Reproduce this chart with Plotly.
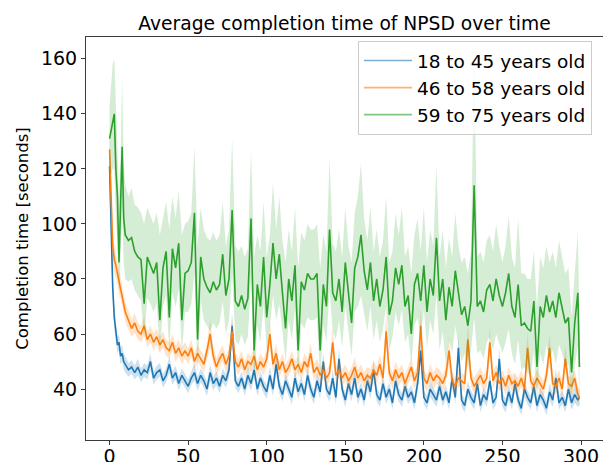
import numpy as np
import plotly.graph_objects as go

# x positions (trial index)
trial = list(range(10)) + list(range(10, 300, 2)) + [299]

series_names = ["18 to 45 years old", "46 to 58 years old", "59 to 75 years old"]
colors = ["#1f77b4", "#ff7f0e", "#2ca02c"]
legend_colors = ["rgba(31,119,180,0.6)", "rgba(255,127,14,0.6)", "rgba(44,160,44,0.6)"]
fills = ["rgba(31,119,180,0.22)", "rgba(255,127,14,0.22)", "rgba(44,160,44,0.2)"]

blue_mean = [
    121, 94, 77, 66, 60, 56, 57, 52, 53, 50,
    49, 47, 48, 46, 48, 45, 47, 46, 50, 44, 46, 47, 43, 45, 49, 44, 46, 42, 45, 43,
    41, 44, 46, 42, 45, 43, 40, 46, 42, 44, 41, 45, 43, 47, 63, 43, 41, 44, 40, 45,
    42, 47, 40, 44, 41, 39, 45, 40, 49, 41, 38, 43, 40, 37, 44, 39, 42, 38, 45, 40,
    37, 43, 39, 50, 40, 38, 44, 37, 51, 40, 36, 42, 38, 44, 37, 40, 36, 43, 39, 47,
    38, 36, 42, 37, 40, 35, 43, 38, 36, 41, 37, 39, 35, 42, 54, 37, 35, 40, 38, 36,
    41, 36, 39, 35, 44, 37, 55, 36, 34, 40, 37, 35, 42, 34, 38, 36, 43, 35, 37, 51,
    36, 34, 39, 35, 42, 36, 33, 40, 37, 35, 41, 34, 38, 36, 33, 39, 36, 44, 35, 37, 34, 40, 35, 38, 36, 37,
]
blue_ci = [
    6, 5, 4, 4, 3.5, 3, 3, 3, 3, 3,
    3, 2.5, 2.5, 2.5, 3, 2.5, 2.5, 2.5, 3, 2.5, 2.5, 2.5, 2.5, 2.5, 3, 2.5, 2.5, 2.5, 2.5, 2.5,
    2.5, 2.5, 3, 2.5, 2.5, 2.5, 2.5, 3, 2.5, 2.5, 2.5, 2.5, 2.5, 3, 5, 2.5, 2.5, 2.5, 2.5, 3,
    2.5, 3, 2.5, 2.5, 2.5, 2.5, 3, 2.5, 3.5, 2.5, 2.5, 2.5, 2.5, 2.5, 3, 2.5, 2.5, 2.5, 3, 2.5,
    2.5, 3, 2.5, 3.5, 2.5, 2.5, 3, 2.5, 4, 2.5, 2.5, 3, 2.5, 3, 2.5, 2.5, 2.5, 3, 2.5, 3.5,
    2.5, 2.5, 3, 2.5, 2.5, 2.5, 3, 2.5, 2.5, 3, 2.5, 2.5, 2.5, 3, 4.5, 2.5, 2.5, 3, 2.5, 2.5,
    3, 2.5, 2.5, 2.5, 3, 2.5, 4.5, 2.5, 2.5, 3, 2.5, 2.5, 3, 2.5, 2.5, 2.5, 3, 2.5, 2.5, 4,
    2.5, 2.5, 3, 2.5, 3, 2.5, 2.5, 3, 2.5, 2.5, 3, 2.5, 2.5, 2.5, 2.5, 3, 2.5, 3.5, 2.5, 2.5, 2.5, 3, 2.5, 3, 2.5, 3,
]

orange_mean = [
    127, 105, 92, 87, 85, 82, 79, 77, 74, 71,
    68, 65, 62, 64, 61, 60, 63, 58, 60, 57, 59, 56, 58, 55, 54, 57, 53, 55, 52, 54,
    52, 55, 50, 53, 51, 49, 54, 60, 52, 48, 51, 53, 49, 52, 61, 50, 48, 51, 47, 50,
    49, 52, 47, 50, 48, 51, 60, 49, 53, 47, 50, 46, 48, 51, 47, 49, 46, 50, 48, 53,
    46, 48, 45, 47, 44, 46, 57, 45, 47, 44, 46, 43, 45, 48, 44, 46, 43, 45, 44, 47,
    45, 49, 44, 61, 46, 43, 47, 44, 46, 42, 45, 48, 43, 46, 63, 44, 42, 46, 43, 45,
    44, 42, 45, 54, 43, 41, 44, 43, 42, 58, 44, 41, 43, 45, 42, 44, 57, 43, 46, 42,
    44, 41, 45, 42, 43, 41, 44, 40, 55, 43, 41, 44, 42, 40, 45, 55, 42, 41, 44, 40, 51, 42, 41, 44, 38, 37,
]
orange_ci = [
    8, 7, 6, 5, 4.5, 4, 4, 4, 3.5, 3.5,
    3.5, 3.5, 3, 3.5, 3, 3, 3.5, 3, 3, 3, 3, 3, 3, 3, 3, 3, 3, 3, 3, 3,
    3, 3, 3, 3, 3, 3, 3, 5, 3, 3, 3, 3, 3, 3, 5, 3, 3, 3, 3, 3,
    3, 3, 3, 3, 3, 3, 5, 3, 3.5, 3, 3, 3, 3, 3, 3, 3, 3, 3, 3, 4,
    3, 3, 3, 3, 3, 3, 5, 3, 3, 3, 3, 3, 3, 3.5, 3, 3, 3, 3, 3, 3.5,
    3, 3.5, 3, 6, 3, 3, 3, 3, 3, 3, 3, 3.5, 3, 3, 6, 3, 3, 3, 3, 3,
    3, 3, 3, 5, 3, 3, 3, 3, 3, 6, 3, 3, 3, 3, 3, 3, 5.5, 3, 3, 3,
    3, 3, 3, 3, 3, 3, 3, 3, 5.5, 3, 3, 3, 3, 3, 3, 5.5, 3, 3, 3, 3, 5, 3, 3, 3, 3, 3,
]

green_mean = [
    131, 134, 138, 140, 120, 110, 86, 104, 128, 102,
    96, 94, 95, 90, 88, 87, 71, 88, 85, 82, 86, 65, 84, 90, 66, 91, 84, 93, 65, 82,
    83, 86, 104, 58, 88, 80, 77, 75, 79, 76, 78, 89, 74, 80, 105, 72, 70, 74, 69, 73,
    102, 54, 78, 70, 88, 66, 78, 93, 80, 89, 75, 62, 80, 72, 85, 54, 79, 76, 82, 80,
    80, 82, 54, 78, 70, 98, 75, 72, 80, 68, 86, 74, 64, 84, 88, 96, 83, 76, 86, 72,
    80, 70, 76, 88, 67, 72, 84, 78, 85, 70, 74, 60, 78, 82, 72, 85, 68, 80, 74, 95,
    72, 80, 65, 77, 70, 83, 74, 67, 70, 63, 72, 114, 70, 72, 68, 76, 78, 72, 80, 74,
    70, 75, 82, 70, 66, 78, 63, 64, 62, 61, 72, 48, 70, 66, 74, 68, 72, 66, 75, 70, 64, 66, 46, 64, 75, 48,
]
green_hi = [
    143, 150, 158, 160, 140, 128, 110, 124, 153, 122,
    114, 110, 113, 107, 106, 104, 100, 106, 103, 100, 104, 96, 102, 108, 98, 110, 102, 112, 96, 100,
    101, 104, 128, 92, 106, 98, 95, 94, 97, 94, 96, 108, 92, 98, 131, 92, 90, 92, 88, 91,
    127, 88, 96, 90, 108, 88, 96, 115, 98, 110, 94, 86, 98, 90, 106, 84, 97, 94, 100, 98,
    98, 100, 84, 96, 90, 124, 93, 90, 98, 88, 106, 92, 86, 104, 110, 122, 102, 94, 106, 90,
    98, 88, 94, 110, 86, 90, 104, 96, 106, 88, 92, 82, 96, 102, 90, 106, 86, 98, 92, 121,
    88, 98, 84, 95, 88, 104, 92, 86, 88, 82, 90, 164, 88, 90, 86, 94, 96, 90, 100, 92,
    86, 92, 103, 88, 84, 102, 82, 82, 80, 80, 90, 70, 88, 84, 92, 86, 90, 84, 94, 88, 82, 84, 66, 82, 97, 66,
]
green_lo = [
    119, 118, 120, 120, 102, 94, 72, 88, 104, 86,
    80, 79, 80, 76, 74, 72, 58, 73, 71, 68, 71, 53, 70, 74, 54, 75, 70, 76, 53, 68,
    68, 71, 82, 46, 72, 65, 63, 61, 64, 62, 64, 72, 60, 65, 82, 58, 56, 60, 56, 59,
    80, 43, 63, 57, 71, 54, 63, 74, 65, 71, 61, 50, 65, 58, 69, 43, 64, 62, 66, 65,
    65, 66, 43, 63, 57, 76, 61, 58, 65, 55, 70, 60, 52, 68, 70, 74, 67, 61, 70, 58,
    65, 57, 62, 70, 54, 59, 68, 63, 69, 57, 60, 49, 63, 66, 59, 69, 55, 65, 60, 74,
    54, 61, 49, 58, 53, 63, 56, 50, 53, 47, 54, 66, 53, 54, 51, 57, 59, 54, 60, 56,
    53, 57, 62, 53, 49, 58, 47, 48, 46, 45, 54, 36, 53, 49, 56, 51, 54, 49, 56, 53, 48, 49, 35, 48, 56, 36,
]

for arr in (blue_mean, blue_ci, orange_mean, orange_ci, green_mean, green_hi, green_lo):
    assert len(arr) == len(trial), len(arr)

bm, bc = np.array(blue_mean, float), np.array(blue_ci, float)
om, oc = np.array(orange_mean, float), np.array(orange_ci, float)
bands = [
    (bm + bc, bm - bc, bm),
    (om + oc, om - oc, om),
    (np.array(green_hi, float), np.array(green_lo, float), np.array(green_mean, float)),
]

fig = go.Figure()
for i, (hi, lo, mean) in enumerate(bands):
    fig.add_trace(go.Scatter(x=trial, y=hi, mode="lines", line=dict(width=0, color=colors[i]),
                             showlegend=False, hoverinfo="skip"))
    fig.add_trace(go.Scatter(x=trial, y=lo, mode="lines", line=dict(width=0, color=colors[i]),
                             fill="tonexty", fillcolor=fills[i], showlegend=False, hoverinfo="skip"))
    fig.add_trace(go.Scatter(x=trial, y=mean, mode="lines", name=series_names[i],
                             line=dict(width=1.6, color=colors[i]), showlegend=False))
# legend handles (drawn lighter, as in the reference)
for i in range(3):
    fig.add_trace(go.Scatter(x=[None], y=[None], mode="lines", name=series_names[i],
                             line=dict(width=1.6, color=legend_colors[i])))

axis_style = dict(showline=True, mirror=True, linecolor="#3a3a3a", linewidth=1,
                  ticks="outside", ticklen=4, tickcolor="#3a3a3a", showgrid=False,
                  zeroline=False, tickfont=dict(size=19, color="black"), automargin=False)

# The page adds an 8px body margin, so the figure is 603x454 to fit the 611x462 window.
fig.update_layout(
    width=603, height=454,
    margin=dict(l=78, r=8, t=29, b=22),
    paper_bgcolor="white", plot_bgcolor="white",
    font=dict(family="DejaVu Sans", size=18, color="black"),
    title=dict(text="Average completion time of NPSD over time", x=0.5, xref="paper",
               xanchor="center", y=1 - 15 / 454, yref="container", yanchor="middle",
               font=dict(size=18.7), automargin=False),
    xaxis=dict(range=[-15, 314], tickvals=[0, 50, 100, 150, 200, 250, 300],
               ticklabelstandoff=-5, **axis_style),
    yaxis=dict(range=[21.5, 167.9], tickvals=[40, 60, 80, 100, 120, 140, 160],
               title=dict(text="Completion time [seconds]", font=dict(size=16.5), standoff=8),
               **axis_style),
    legend=dict(x=0.526, y=0.99, xanchor="left", yanchor="top", traceorder="normal",
                itemwidth=48,
                bgcolor="rgba(255,255,255,0.8)", bordercolor="#cccccc", borderwidth=1,
                font=dict(size=18.5)),
)

fig.write_html("out.html")
